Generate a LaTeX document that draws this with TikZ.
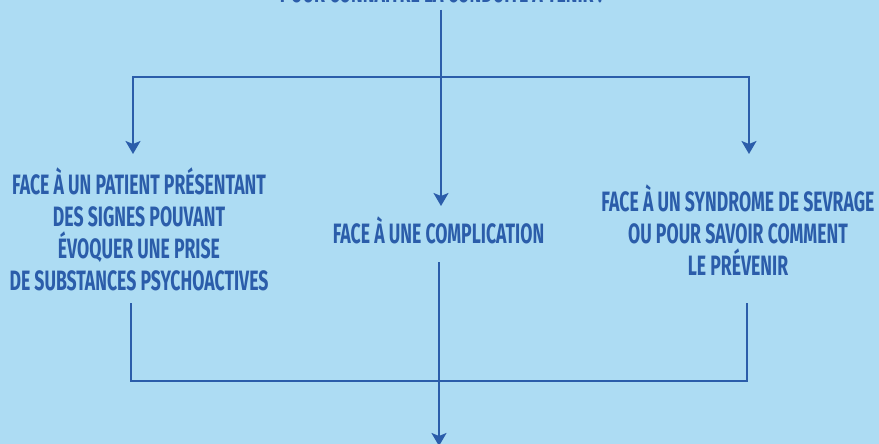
\documentclass[tikz,border=0pt]{standalone}
\usepackage{fontspec}
\usepackage{tikz}
\usetikzlibrary{arrows.meta, positioning}
\newfontfamily\condfont{Fira Sans}[FakeStretch=0.63]
\definecolor{skyblue}{HTML}{ADDCF3}
\definecolor{inkblue}{HTML}{2B5DAA}

\begin{document}
\begin{tikzpicture}[x=1pt, y=-1pt]
    % Styles
    \tikzstyle{label} = [inner sep=0pt, anchor=base, align=center, text=inkblue, font=\condfont\bfseries\fontsize{28}{31.7}\selectfont]
    \tikzstyle{link} = [draw=inkblue, line width=1.8pt]
    \tikzstyle{arrow} = [link, -{Stealth[length=13pt, width=15pt, inset=3pt]}]

    % Background
    \useasboundingbox (0,0) rectangle (879,444);
    \clip (0,0) rectangle (879,444);
    \fill[skyblue] (0,0) rectangle (879,444);

    % Nodes - using absolute positioning (base = last line)
    \node[label] (title) at (441,3) {POUR CONNAÎTRE LA CONDUITE À TENIR :};
    \node[label] (patient) at (139,290) {FACE À UN PATIENT PRÉSENTANT\\DES SIGNES POUVANT\\ÉVOQUER UNE PRISE\\DE SUBSTANCES PSYCHOACTIVES};
    \node[label] (complic) at (438.5,243) {FACE À UNE COMPLICATION};
    \node[label] (sevrage) at (738,275) {FACE À UN SYNDROME DE SEVRAGE\\OU POUR SAVOIR COMMENT\\LE PRÉVENIR};

    % Coordinates
    \coordinate (top) at (441,10);
    \coordinate (fork) at (441,77);
    \coordinate (patientIn) at (133,154);
    \coordinate (complicIn) at (441,206);
    \coordinate (sevrageIn) at (749,154);
    \coordinate (patientOut) at (131,303);
    \coordinate (complicOut) at (439,262);
    \coordinate (sevrageOut) at (747,303);
    \coordinate (join) at (439,381);
    \coordinate (next) at (439,446);

    % Arrows
    \draw[arrow] (top) -- (complicIn);
    \draw[arrow] (fork) -| (patientIn);
    \draw[arrow] (fork) -| (sevrageIn);
    \draw[link] (patientOut) |- (join) -| (sevrageOut);
    \draw[arrow] (complicOut) -- (next);
\end{tikzpicture}
\end{document}
